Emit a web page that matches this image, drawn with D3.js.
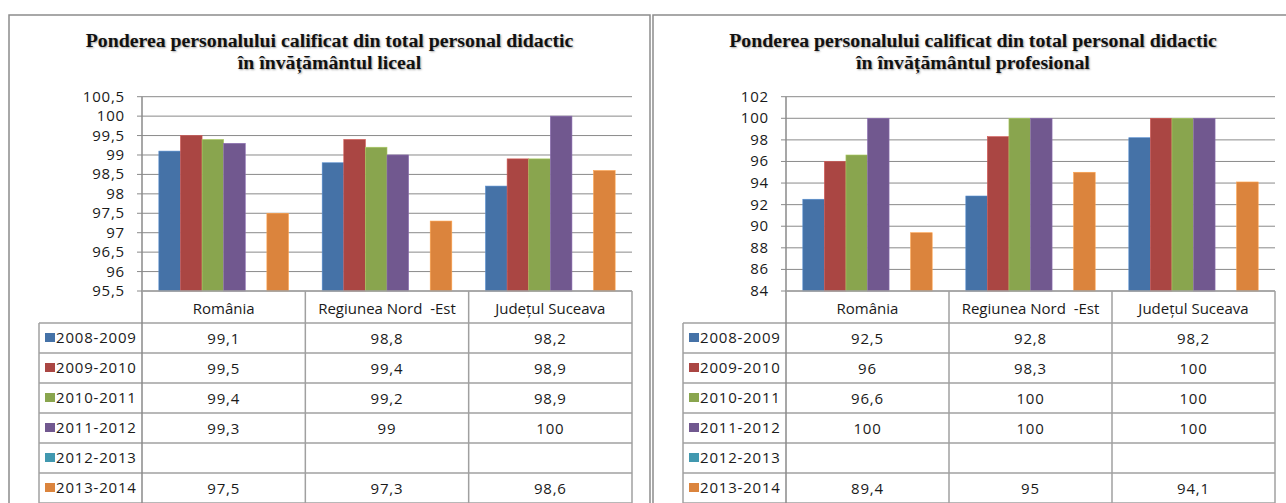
<!DOCTYPE html>
<html>
<head>
<meta charset="utf-8">
<script src="https://cdn.jsdelivr.net/npm/d3@7.9.0/dist/d3.min.js"></script>
<style>
  body { margin: 0; background: #fff; }
  svg { display: block; }
  .title { font-family: "Liberation Serif", serif; font-weight: bold; font-size: 19.8px; fill: #111;
           text-shadow: 1px 1px 2px rgba(0,0,0,0.35); }
  .lbl { font-family: "Open Sans", sans-serif; font-size: 15px; fill: #1a1a1a; white-space: pre; }
  .num { letter-spacing: 0.8px; }
</style>
</head>
<body>
<svg id="chart" width="1286" height="503"></svg>
<script>
// categories and series shared by both charts
const categories = ['România', 'Regiunea Nord  -Est', 'Județul Suceava'];
const years = ['2008-2009', '2009-2010', '2010-2011', '2011-2012', '2012-2013', '2013-2014'];
const colors = ['#4572A7', '#AA4643', '#89A54E', '#71588F', '#4198AF', '#DB843D'];

// liceal: one array per year, values per category (null = no data)
const licealValues = [
  [99.1, 98.8, 98.2],
  [99.5, 99.4, 98.9],
  [99.4, 99.2, 98.9],
  [99.3, 99, 100],
  [null, null, null],
  [97.5, 97.3, 98.6]
];
const licealTicks = [95.5, 96, 96.5, 97, 97.5, 98, 98.5, 99, 99.5, 100, 100.5];

// profesional
const profValues = [
  [92.5, 92.8, 98.2],
  [96, 98.3, 100],
  [96.6, 100, 100],
  [100, 100, 100],
  [null, null, null],
  [89.4, 95, 94.1]
];
const profTicks = [84, 86, 88, 90, 92, 94, 96, 98, 100, 102];

const svg = d3.select('#chart');
const fmt = v => v == null ? '' : String(v).replace('.', ',');

function drawPanel(p) {
  const g = svg.append('g');

  // outer frame
  g.append('rect')
    .attr('x', p.frameX).attr('y', 15)
    .attr('width', p.frameW).attr('height', 520)
    .attr('fill', '#fff').attr('stroke', '#8c8c8c').attr('stroke-width', 1.5);

  // title
  const cx = p.frameX + p.frameW / 2;
  g.append('text').attr('class', 'title').attr('x', cx).attr('y', 47)
    .attr('text-anchor', 'middle').text(p.title[0]);
  g.append('text').attr('class', 'title').attr('x', cx).attr('y', 69)
    .attr('text-anchor', 'middle').text(p.title[1]);

  const top = 96.7, bottom = 291;
  const y = d3.scaleLinear().domain(d3.extent(p.ticks)).range([bottom, top]);
  const x0 = d3.scaleBand().domain(categories).range([p.left, p.right]);
  const x1 = d3.scaleBand().domain(years).range([0, x0.bandwidth()]).paddingOuter(0.78);

  // gridlines + ticks
  g.append('g').selectAll('line').data(p.ticks).join('line')
    .attr('x1', p.left - 5).attr('x2', p.right)
    .attr('y1', d => y(d)).attr('y2', d => y(d))
    .attr('stroke', '#8a8a8a').attr('stroke-width', 1);

  g.append('g').selectAll('text').data(p.ticks).join('text')
    .attr('class', 'lbl num')
    .attr('x', p.left - 17).attr('y', d => y(d) + 5)
    .attr('text-anchor', 'end').text(fmt);

  // bars
  years.forEach((yr, i) => {
    g.append('g').selectAll('rect')
      .data(p.values[i].map((v, j) => ({ v, cat: categories[j] })).filter(d => d.v != null))
      .join('rect')
      .attr('x', d => x0(d.cat) + x1(yr))
      .attr('y', d => y(d.v))
      .attr('width', x1.bandwidth())
      .attr('height', d => bottom - y(d.v))
      .attr('fill', colors[i])
      .attr('stroke', d3.color(colors[i]).brighter(0.6)).attr('stroke-width', 0.6);
  });

  // table
  const rowH = 30;
  const headTop = bottom, bodyTop = 323;
  const gridColor = '#a0a0a0';
  const t = g.append('g');

  // header labels
  t.selectAll('text.head').data(categories).join('text')
    .attr('class', 'lbl head')
    .attr('x', d => x0(d) + x0.bandwidth() / 2).attr('y', headTop + 23)
    .attr('text-anchor', 'middle').text(d => d);

  // horizontal lines of body
  d3.range(years.length + 1).forEach(r => {
    t.append('line')
      .attr('x1', p.legendX).attr('x2', p.right)
      .attr('y1', bodyTop + r * rowH).attr('y2', bodyTop + r * rowH)
      .attr('stroke', gridColor).attr('stroke-width', 1.5);
  });
  // vertical lines
  t.append('line').attr('x1', p.legendX).attr('x2', p.legendX)
    .attr('y1', bodyTop).attr('y2', bodyTop + years.length * rowH)
    .attr('stroke', gridColor).attr('stroke-width', 1.5);
  [p.left].concat(categories.map(c => x0(c) + x0.bandwidth())).forEach(xv => {
    t.append('line').attr('x1', xv).attr('x2', xv)
      .attr('y1', xv === p.left ? top : headTop).attr('y2', bodyTop + years.length * rowH)
      .attr('stroke', xv === p.left ? '#8a8a8a' : gridColor).attr('stroke-width', 1.5);
  });
  // x-axis / header top
  t.append('line').attr('x1', p.left).attr('x2', p.right)
    .attr('y1', headTop).attr('y2', headTop)
    .attr('stroke', gridColor).attr('stroke-width', 1.5);

  // legend rows + values
  years.forEach((yr, i) => {
    const ry = bodyTop + i * rowH;
    t.append('rect').attr('x', p.legendX + 6).attr('y', ry + 10)
      .attr('width', 10).attr('height', 9).attr('fill', colors[i]);
    t.append('text').attr('class', 'lbl num').attr('x', p.legendX + 17).attr('y', ry + 20)
      .text(yr);
    categories.forEach((c, j) => {
      t.append('text').attr('class', 'lbl num')
        .attr('x', x0(c) + x0.bandwidth() / 2).attr('y', ry + 21)
        .attr('text-anchor', 'middle').text(fmt(p.values[i][j]));
    });
  });
}

drawPanel({
  frameX: 9, frameW: 641,
  title: ['Ponderea personalului calificat din total personal didactic', 'în învățământul liceal'],
  left: 142, right: 632, legendX: 39,
  ticks: licealTicks, values: licealValues
});

drawPanel({
  frameX: 653, frameW: 640,
  title: ['Ponderea personalului calificat din total personal didactic', 'în învățământul profesional'],
  left: 786, right: 1275, legendX: 683,
  ticks: profTicks, values: profValues
});
</script>
</body>
</html>
